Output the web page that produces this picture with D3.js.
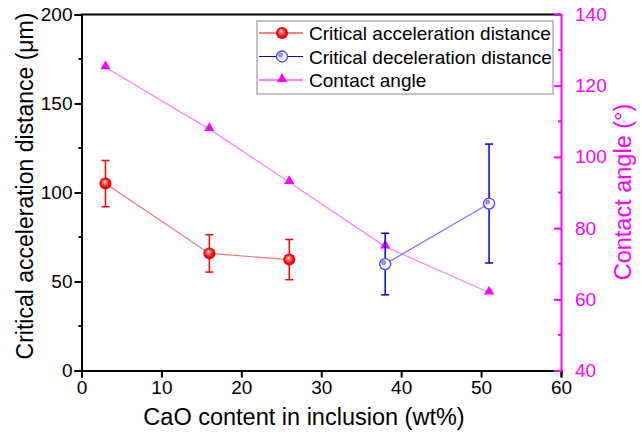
<!DOCTYPE html>
<html>
<head>
<meta charset="utf-8">
<script src="https://cdn.jsdelivr.net/npm/d3@7"></script>
<style>
  body { margin: 0; background: #fff; }
  svg { font-family: "Liberation Sans", Arial, sans-serif; }
</style>
</head>
<body>
<div id="chart"></div>
<script>
// data
var accX = [3, 16, 26];
var accY = [105, 65.8, 62.3];
var accErr = [13, 10.5, 11.3];

var decX = [38, 51];
var decY = [59.8, 93.8];
var decErr = [17.3, 33.4];

var angX = [3, 16, 26, 38, 51];
var angY = [125.2, 107.8, 92.9, 74.8, 61.9];

var xTicks = [0, 10, 20, 30, 40, 50, 60];
var yTicks = [0, 50, 100, 150, 200];
var y2Ticks = [40, 60, 80, 100, 120, 140];

var W = 642, H = 434;
var margin = { top: 14.5, right: 81, bottom: 63.5, left: 81.5 };
var width = W - margin.left - margin.right,
    height = H - margin.top - margin.bottom;

var svg = d3.select("#chart").append("svg")
    .attr("width", W).attr("height", H);

var defs = svg.append("defs");
var grad = defs.append("radialGradient").attr("id", "ball")
    .attr("cx", "50%").attr("cy", "50%").attr("r", "55%")
    .attr("fx", "42%").attr("fy", "35%");
grad.append("stop").attr("offset", "0%").attr("stop-color", "#fff");
grad.append("stop").attr("offset", "30%").attr("stop-color", "#ff6a6a");
grad.append("stop").attr("offset", "70%").attr("stop-color", "#ff0000");
grad.append("stop").attr("offset", "100%").attr("stop-color", "#d00000");

var g = svg.append("g")
    .attr("transform", "translate(" + margin.left + "," + margin.top + ")");

var x = d3.scaleLinear().domain([0, 60]).range([0, width]);
var y = d3.scaleLinear().domain([0, 200]).range([height, 0]);
var y2 = d3.scaleLinear().domain([40, 140]).range([height, 0]);

// frame top
g.append("line").attr("x1", 0).attr("x2", width).attr("y1", 0).attr("y2", 0)
    .attr("stroke", "#000").attr("stroke-width", 2);

// bottom axis
var xAxis = g.append("g").attr("transform", "translate(0," + height + ")")
    .call(d3.axisBottom(x).tickValues(xTicks).tickSize(7).tickPadding(3));
xAxis.select(".domain").attr("stroke-width", 2);
xAxis.selectAll(".tick line").attr("stroke-width", 2);
xAxis.selectAll("text").attr("font-size", 19).attr("fill", "#000");

// left axis
var yAxis = g.append("g")
    .call(d3.axisLeft(y).tickValues(yTicks).tickSize(7).tickPadding(2));
yAxis.select(".domain").attr("stroke-width", 2);
yAxis.selectAll(".tick line").attr("stroke-width", 2);
yAxis.selectAll("text").attr("font-size", 19).attr("fill", "#000");
g.append("g").selectAll("line")
    .data([25, 75, 125, 175]).enter().append("line")
    .attr("x1", -3).attr("x2", 0)
    .attr("y1", d => y(d)).attr("y2", d => y(d))
    .attr("stroke", "#000").attr("stroke-width", 2);

// right axis (magenta)
var mag = "#ff00ff";
var y2Axis = g.append("g").attr("transform", "translate(" + width + ",0)")
    .call(d3.axisRight(y2).tickValues(y2Ticks).tickSize(-7).tickPadding(14));
y2Axis.select(".domain").attr("stroke", mag).attr("stroke-width", 2);
y2Axis.selectAll(".tick line").attr("stroke", mag).attr("stroke-width", 2);
y2Axis.selectAll("text").attr("font-size", 19).attr("fill", mag);
g.append("g").selectAll("line")
    .data([50, 70, 90, 110, 130]).enter().append("line")
    .attr("x1", width - 3).attr("x2", width)
    .attr("y1", d => y2(d)).attr("y2", d => y2(d))
    .attr("stroke", mag).attr("stroke-width", 2);

// axis titles
svg.append("text")
    .attr("transform", "translate(33,186) rotate(-90)")
    .attr("text-anchor", "middle").attr("font-size", 23)
    .text("Critical acceleration distance (\u03bcm)");
svg.append("text")
    .attr("transform", "translate(631,192) rotate(-90)")
    .attr("text-anchor", "middle").attr("font-size", 23.5).attr("fill", mag)
    .text("Contact angle (\u00b0)");
svg.append("text")
    .attr("x", 304).attr("y", 425)
    .attr("text-anchor", "middle").attr("font-size", 23.5)
    .text("CaO content in inclusion (wt%)");

var line = d3.line();

// contact angle
var angPts = angX.map((d, i) => [x(d), y2(angY[i])]);
g.append("path").attr("d", line(angPts))
    .attr("fill", "none").attr("stroke", "#ff80ff").attr("stroke-width", 1.2);
var tri = d3.symbol().type(d3.symbolTriangle).size(45);
g.selectAll(".tri").data(angPts).enter().append("path")
    .attr("transform", d => "translate(" + d[0] + "," + (d[1] - 1) + ")")
    .attr("d", tri).attr("fill", mag);

// acceleration
var accPts = accX.map((d, i) => [x(d), y(accY[i])]);
g.append("path").attr("d", line(accPts))
    .attr("fill", "none").attr("stroke", "#ff7070").attr("stroke-width", 1.2);
function errBars(xs, ys, es, col) {
  var eb = g.append("g").attr("stroke", col).attr("stroke-width", 1.5);
  xs.forEach(function (d, i) {
    var cx = x(d), t = y(ys[i] + es[i]), b = y(ys[i] - es[i]);
    eb.append("line").attr("x1", cx).attr("x2", cx).attr("y1", t).attr("y2", b);
    eb.append("line").attr("x1", cx - 4).attr("x2", cx + 4).attr("y1", t).attr("y2", t);
    eb.append("line").attr("x1", cx - 4).attr("x2", cx + 4).attr("y1", b).attr("y2", b);
  });
}
errBars(accX, accY, accErr, "#ff0000");
g.selectAll(".ball").data(accPts).enter().append("circle")
    .attr("cx", d => d[0]).attr("cy", d => d[1]).attr("r", 6)
    .attr("fill", "url(#ball)");

// deceleration
var decPts = decX.map((d, i) => [x(d), y(decY[i])]);
g.append("path").attr("d", line(decPts))
    .attr("fill", "none").attr("stroke", "#7070ff").attr("stroke-width", 1.2);
errBars(decX, decY, decErr, "#0000dd");
function openCircle(sel) {
  sel.append("circle").attr("r", 5.5).attr("fill", "#fff")
      .attr("stroke", "#4040ff").attr("stroke-width", 1.3);
  sel.append("circle").attr("cx", -1.5).attr("cy", -1.5).attr("r", 2)
      .attr("fill", "#a0a0ff").attr("stroke", "#6060ff").attr("stroke-width", 0.8);
}
g.selectAll(".oc").data(decPts).enter().append("g")
    .attr("transform", d => "translate(" + d[0] + "," + d[1] + ")")
    .call(openCircle);

// legend
var leg = svg.append("g").attr("transform", "translate(257,21)");
leg.append("rect").attr("width", 296).attr("height", 73)
    .attr("fill", "#fff").attr("stroke", "#888").attr("stroke-width", 1);
var rows = [
  { label: "Critical acceleration distance", col: "#ff0000", kind: "ball" },
  { label: "Critical deceleration distance", col: "#0000dd", kind: "open" },
  { label: "Contact angle", col: mag, kind: "tri" }
];
rows.forEach(function (r, i) {
  var ry = 12 + i * 23.5;
  var row = leg.append("g").attr("transform", "translate(0," + ry + ")");
  row.append("line").attr("x1", 2).attr("x2", 46).attr("y1", 0).attr("y2", 0)
      .attr("stroke", r.col).attr("stroke-width", 1.2);
  var m = row.append("g").attr("transform", "translate(25,0)");
  if (r.kind === "ball") m.append("circle").attr("r", 6).attr("fill", "url(#ball)");
  else if (r.kind === "open") m.call(openCircle);
  else m.append("path").attr("d", tri).attr("transform", "translate(0,-1)").attr("fill", mag);
  row.append("text").attr("x", 52).attr("y", 7).attr("font-size", 19)
      .text(r.label);
});
</script>
</body>
</html>
